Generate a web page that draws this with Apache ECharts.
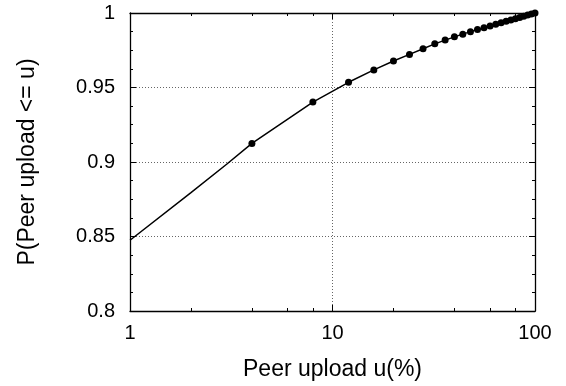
<!DOCTYPE html>
<html>
<head>
<meta charset="utf-8">
<script src="https://cdn.jsdelivr.net/npm/echarts@6/dist/echarts.min.js"></script>
<style>
  html, body { margin: 0; padding: 0; background: #fff; }
  #chart { width: 566px; height: 386px; }
</style>
</head>
<body>
<div id="chart"></div>
<script>
// peer upload u (%) and P(Peer upload <= u)
var uPct = [1, 2, 3, 4, 8, 12, 16, 20, 24, 28, 32, 36, 40, 44, 48, 52, 56, 60, 64, 68, 72, 76, 80, 84, 88, 92, 96, 100];
var prob = [0.8475, 0.8795, 0.8985, 0.9125, 0.9402, 0.9535, 0.9618, 0.9678, 0.9722, 0.9760, 0.9793, 0.9818, 0.9840, 0.9858,
            0.9875, 0.9889, 0.9901, 0.9913, 0.9924, 0.9934, 0.9944, 0.9953, 0.9962, 0.9970, 0.9978, 0.9986, 0.9993, 1.0];
var xMajor = [1, 10, 100];
var xMinor = [2, 4, 6, 8, 20, 40, 60, 80];

var font = '"Liberation Sans", Arial, sans-serif';

var pts = [];
for (var i = 0; i < uPct.length; i++) {
    pts.push([uPct[i], prob[i]]);
}

var myChart = echarts.init(document.getElementById('chart'));

// x axis pieces: bottom majors, bottom minors, top majors, top minors
function xAx(pos, ticks, len, main) {
    return {
        type: 'log', logBase: 10, min: 1, max: 100, position: pos,
        axisLine: { show: main, onZero: false, lineStyle: { color: '#000', width: 1.3 } },
        axisTick: { show: true, inside: true, length: len, customValues: ticks, lineStyle: { color: '#000' } },
        axisLabel: main && pos === 'bottom' ? {
            show: true, customValues: xMajor, color: '#000', fontSize: 20, fontFamily: font, margin: 12
        } : { show: false },
        splitLine: { show: main && pos === 'bottom', lineStyle: { color: '#666', type: [1, 2], width: 1 } },
        minorTick: { show: false }, minorSplitLine: { show: false }
    };
}

var option = {
    animation: false,
    grid: { left: 130, right: 31, top: 13, bottom: 73 },
    xAxis: [
        Object.assign(xAx('bottom', xMajor, 6, true), {
            name: 'Peer upload u(%)', nameLocation: 'middle', nameGap: 47,
            nameTextStyle: { color: '#000', fontSize: 23, fontFamily: font }
        }),
        xAx('bottom', xMinor, 3, false),
        xAx('top', xMajor, 6, true),
        xAx('top', xMinor, 3, false)
    ],
    yAxis: [
        {
            type: 'value', min: 0.8, max: 1, interval: 0.05, position: 'left',
            name: 'P(Peer upload <= u)', nameLocation: 'middle', nameGap: 91,
            nameTextStyle: { color: '#000', fontSize: 23, fontFamily: font },
            axisLine: { show: true, lineStyle: { color: '#000', width: 1.3 } },
            axisTick: { show: true, inside: true, length: 6, lineStyle: { color: '#000' } },
            minorTick: { show: true, splitNumber: 4, length: 3, lineStyle: { color: '#000' } },
            axisLabel: { color: '#000', fontSize: 20, fontFamily: font, margin: 15 },
            splitLine: { show: true, lineStyle: { color: '#666', type: [1, 2], width: 1 } }
        },
        {
            type: 'value', min: 0.8, max: 1, interval: 0.05, position: 'right',
            axisLine: { show: true, lineStyle: { color: '#000', width: 1.3 } },
            axisTick: { show: true, inside: true, length: 6, lineStyle: { color: '#000' } },
            minorTick: { show: true, splitNumber: 4, length: 3, lineStyle: { color: '#000' } },
            axisLabel: { show: false },
            splitLine: { show: false }
        }
    ],
    series: [{
        type: 'line',
        data: pts,
        symbol: function (v) { return v[0] >= 4 ? 'circle' : 'none'; },
        symbolSize: 7,
        showAllSymbol: true,
        itemStyle: { color: '#000' },
        lineStyle: { color: '#000', width: 1.5 },
        z: 5
    }]
};
myChart.setOption(option);
</script>
</body>
</html>
